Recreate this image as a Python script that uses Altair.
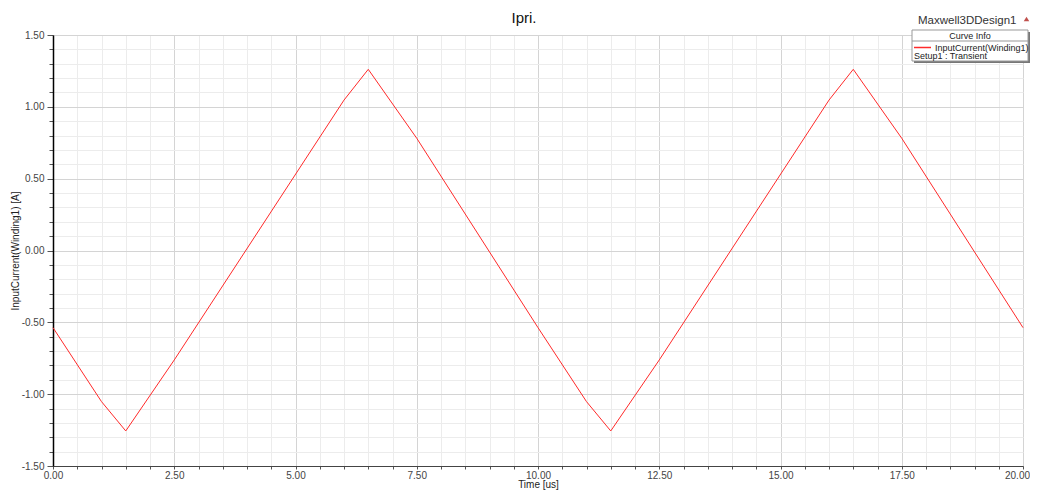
import altair as alt
import pandas as pd
import numpy as np

# ---- data ----
time_us = [0.0, 1.0, 1.5, 2.5, 6.0, 6.5, 7.5, 10.0, 11.0, 11.5, 12.5, 16.0, 16.5, 17.5, 20.0]
current_a = [-0.537, -1.052, -1.256, -0.762, 1.047, 1.261, 0.781,
             -0.537, -1.052, -1.256, -0.762, 1.047, 1.261, 0.781, -0.537]

x_ticks = [round(v, 1) for v in np.arange(0, 41) * 0.5]
y_ticks = [round(v, 1) for v in np.arange(-15, 16) * 0.1]

title_text = "Ipri."
project_text = "Maxwell3DDesign1"
legend_header = "Curve Info"
legend_series = "InputCurrent(Winding1)"
legend_setup = "Setup1 : Transient"

FONT = "Liberation Sans"
W, H = 970, 431

df = pd.DataFrame({"t": time_us, "i": current_a})
one = pd.DataFrame({"k": [0]})

x_axis = alt.Axis(
    values=x_ticks,
    labelExpr="datum.value % 2.5 == 0 ? format(datum.value, '.2f') : ''",
    labelOverlap=False, labelFlush=False,
    labelOffset={"condition": {"test": "datum.value == 20", "value": -6}, "value": 0},
    grid=True,
    gridColor={"condition": {"test": "datum.value % 2.5 == 0", "value": "#d4d4d4"}, "value": "#ececec"},
    gridWidth=1,
    tickSize=3, tickColor="#555",
    domainColor="#444", domainWidth=1,
    labelFont=FONT, labelFontSize=10, labelColor="#444", labelPadding=1,
    title="Time [us]", titleFont=FONT, titleFontSize=10, titleFontWeight="normal",
    titleColor="#222", titleBaseline="alphabetic", titleY=21,
)
y_axis = alt.Axis(
    values=y_ticks,
    labelExpr="abs(round(datum.value*10)) % 5 == 0 ? replace(format(datum.value, '.2f'), '\u2212', '-') : ''",
    labelOverlap=False, labelFlush=False,
    grid=True,
    gridColor={"condition": {"test": "abs(round(datum.value*10)) % 5 == 0", "value": "#d4d4d4"}, "value": "#ececec"},
    gridWidth=1,
    tickSize={"condition": {"test": "abs(round(datum.value*10)) % 5 == 0", "value": 6}, "value": 4},
    tickColor="#555",
    domainColor="#000", domainWidth=1.5,
    labelFont=FONT, labelFontSize=10, labelColor="#444", labelPadding=3,
    title="InputCurrent(Winding1) [A]", titleFont=FONT, titleFontSize=10,
    titleFontWeight="normal", titleColor="#222", titlePadding=1,
)

line = alt.Chart(df).mark_line(color="#ff2a2a", strokeWidth=1).encode(
    x=alt.X("t:Q", scale=alt.Scale(domain=[0, 20], nice=False, zero=False), axis=x_axis),
    y=alt.Y("i:Q", scale=alt.Scale(domain=[-1.5, 1.5], nice=False, zero=False), axis=y_axis),
)

base = alt.Chart(one)

def txt(s, x, y, size, color="#222", align="left"):
    return base.mark_text(font=FONT, fontSize=size, color=color, align=align,
                          baseline="alphabetic").encode(
        x=alt.value(x), y=alt.value(y), text=alt.value(s))

title = txt(title_text, 471, -12, 15, "#111", "center")
project = txt(project_text, 865, -11, 11.5, "#333")
tri = base.mark_point(shape="triangle-up", filled=True, size=30, color="#c0504d", opacity=1).encode(
    x=alt.value(973.5), y=alt.value(-16))

shadow = base.mark_rect(color="#777").encode(
    x=alt.value(861), x2=alt.value(977), y=alt.value(-3), y2=alt.value(28))
box = base.mark_rect(fill="white", stroke="#999", strokeWidth=1).encode(
    x=alt.value(859), x2=alt.value(975), y=alt.value(-5), y2=alt.value(26))
sep = base.mark_rule(color="#999", strokeWidth=1).encode(
    x=alt.value(859), x2=alt.value(975), y=alt.value(6))
sample = base.mark_rule(color="#ff2a2a", strokeWidth=1.5).encode(
    x=alt.value(861), x2=alt.value(878), y=alt.value(12.5))
hdr = txt(legend_header, 917, 4, 9, "#222", "center")
ser = txt(legend_series, 882, 15.5, 9, "#222")
setup = txt(legend_setup, 861, 24, 9, "#222")

chart = alt.layer(line, title, project, tri, shadow, box, sep, sample, hdr, ser, setup).properties(
    width=W, height=H,
    autosize=alt.AutoSizeParams(type="none"),
    padding={"left": 45, "top": 27, "right": 7, "bottom": 24},
    background="white",
).configure_view(stroke="#999", strokeWidth=1)

chart.save("out.html", embed_options={"renderer": "svg", "actions": False})
